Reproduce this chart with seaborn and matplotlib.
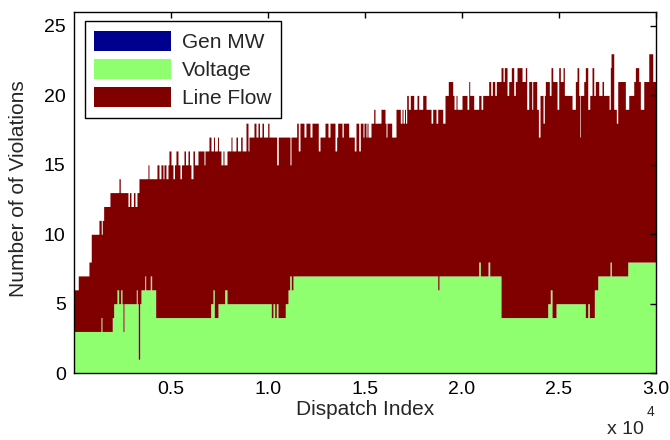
import numpy as np
import matplotlib
matplotlib.use("Agg")
import matplotlib.pyplot as plt
import seaborn as sns

# ---------------- data ----------------
n_dispatch = 30000
series_names = ["Gen MW", "Voltage", "Line Flow"]
series_colors = ["#00008F", "#8FFF70", "#800000"]

# Gen MW violations (none visible)
gen_start = [0]
gen_count = [0]

# Voltage violations: runs (start dispatch index, count)
volt_start = [0, 1392, 1443, 1974, 2047, 2217, 2304, 2407, 2474, 2526, 2578, 3212, 3263,
              3315, 3387, 3454, 3645, 3696, 3933, 4005, 4212, 7047, 7165, 7233, 7423,
              7769, 7887, 10171, 10258, 10346, 10429, 10516, 10892, 11032, 11119, 11202,
              11289, 18749, 18816, 20862, 20945, 21342, 21430, 22012, 24419, 24553, 24641,
              24847, 26358, 26482, 26564, 26822, 26997, 27631, 27698, 28543]
volt_count = [3, 4, 3, 4, 5, 6, 5, 6, 5, 3, 5, 6, 5,
              1, 5, 6, 7, 6, 7, 6, 4, 5, 6, 4, 5,
              6, 5, 4, 5, 4, 5, 4, 5, 6, 7, 6,
              7, 6, 7, 8, 7, 8, 7, 4, 5, 6, 4,
              5, 4, 5, 4, 6, 7, 8, 7, 8]

# Total number of violations (top of the stack): runs (start dispatch index, count)
total_start = [0, 222, 773, 892, 1289, 1407, 1459, 1531, 1856, 2320, 2387, 2784, 2861, 2938,
               3067, 3145, 3248, 3351, 3815, 3866, 4279, 4382, 4485, 4588, 4640, 4743, 4846,
               4897, 5000, 5103, 5181, 5258, 5361, 5464, 5542, 5671, 5748, 5877, 5954, 6031,
               6134, 6212, 6392, 6702, 6753, 6959, 7062, 7191, 7243, 7397, 7449, 7578, 7681,
               7732, 7887, 8093, 8145, 8351, 8428, 8593, 8670, 8867, 8970, 9021, 9279, 9382,
               9485, 9562, 9691, 9769, 9985, 10052, 10449, 10531, 11135, 11187, 11480, 11562,
               11650, 11856, 11959, 12165, 12269, 12593, 12681, 12939, 13094, 13197, 13455,
               13542, 13593, 13815, 13882, 14160, 14449, 14537, 14676, 14759, 14898, 14949,
               15053, 15104, 15156, 15310, 15449, 15516, 15826, 16032, 16084, 16135, 16378,
               16599, 16821, 16909, 16960, 17038, 17089, 17151, 17233, 17336, 17512, 17682,
               17770, 17976, 18146, 18404, 18491, 18661, 18749, 19007, 19125, 19295, 19522,
               19589, 19692, 19744, 20001, 20259, 20347, 20398, 20605, 20862, 20981, 21069,
               21378, 21481, 21564, 21688, 21770, 22012, 22115, 22182, 22322, 22409, 22543,
               22667, 22749, 22837, 23095, 23265, 23337, 23440, 23595, 23646, 23852, 23939,
               24022, 24177, 24244, 24296, 24502, 24589, 24677, 24899, 24987, 25069, 25209,
               25276, 25672, 25843, 25930, 26018, 26069, 26100, 26275, 26358, 26482, 26585,
               26703, 26791, 26873, 27049, 27218, 27296, 27580, 27647, 27683, 27822, 27956,
               28028, 28420, 28596, 28853, 28936, 29111, 29193, 29369, 29627, 29833]
total_count = [6, 7, 8, 10, 11, 10, 11, 12, 13, 14, 13, 12, 13, 12,
               13, 12, 13, 14, 15, 14, 15, 14, 15, 14, 15, 14, 15,
               16, 15, 14, 15, 16, 15, 14, 15, 16, 15, 16, 15, 14,
               16, 15, 16, 15, 16, 17, 16, 17, 16, 17, 16, 15, 16,
               15, 16, 17, 16, 17, 16, 17, 16, 18, 16, 17, 18, 17,
               18, 17, 18, 17, 18, 17, 15, 17, 15, 17, 18, 16,
               18, 17, 18, 17, 18, 16, 17, 18, 17, 18, 16,
               17, 18, 17, 18, 17, 16, 18, 16, 18, 17, 18,
               17, 18, 17, 18, 19, 18, 19, 18, 17, 18, 17,
               19, 18, 19, 18, 19, 18, 20, 19, 20, 19, 20,
               19, 20, 19, 18, 19, 18, 19, 18, 20, 21, 20,
               19, 20, 19, 20, 19, 21, 20, 19, 20, 19, 20,
               21, 20, 21, 20, 21, 22, 21, 22, 20, 21, 22,
               20, 21, 22, 21, 22, 19, 21, 19, 21, 19, 17,
               20, 18, 20, 21, 20, 22, 21, 19, 22, 21, 22,
               20, 19, 21, 22, 20, 17, 20, 21, 22, 19, 20,
               22, 20, 21, 20, 21, 20, 19, 22, 23, 19, 18,
               21, 19, 20, 21, 22, 21, 19, 21, 23, 21]

x_ticks = [5000, 10000, 15000, 20000, 25000, 30000]
x_tick_labels = ["0.5", "1.0", "1.5", "2.0", "2.5", "3.0"]
y_ticks = [0, 5, 10, 15, 20, 25]


def expand(starts, counts, idx):
    starts = np.asarray(starts)
    counts = np.asarray(counts, dtype=float)
    pos = np.searchsorted(starts, idx, side="right") - 1
    return counts[pos]


dispatch = np.arange(1, n_dispatch + 1)
gen = expand(gen_start, gen_count, dispatch)
volt = expand(volt_start, volt_count, dispatch)
total = expand(total_start, total_count, dispatch)
line_flow = np.clip(total - volt - gen, 0, None)

# ---------------- style ----------------
sns.set_theme(style="white")
plt.rcParams["font.family"] = ["Liberation Sans", "DejaVu Sans"]
plt.rcParams["axes.linewidth"] = 1.0

fig = plt.figure(figsize=(6.7, 4.4), dpi=100)
ax = fig.add_axes([0.1104, 0.152, 0.8687, 0.8205])

polys = ax.stackplot(dispatch, gen, volt, line_flow, colors=series_colors,
                     labels=series_names, linewidth=0, step="post",
                     antialiased=True)

ax.set_xlim(1, n_dispatch)
ax.set_ylim(0, 26)
ax.set_xticks(x_ticks)
ax.set_xticklabels(x_tick_labels)
ax.set_yticks(y_ticks)
ax.tick_params(direction="in", length=4, width=1, top=True, right=True,
               labelsize=14, pad=6, colors="black")
for s in ax.spines.values():
    s.set_color("black")
    s.set_linewidth(1.0)
ax.set_axisbelow(False)

ax.set_xlabel("Dispatch Index", fontsize=15, labelpad=1)
ax.set_ylabel("Number of of Violations", fontsize=15)
ax.yaxis.set_label_coords(-0.079, 0.51)

fig.text(607 / 670, 1 - 434 / 440, "x 10", fontsize=14, ha="left", va="baseline")
fig.text(647 / 670, 1 - 416 / 440, "4", fontsize=10, ha="left", va="baseline")

leg = ax.legend(loc="upper left", bbox_to_anchor=(0.019, 0.975), borderaxespad=0,
                fontsize=15, frameon=True, fancybox=False, framealpha=1,
                edgecolor="black", handlelength=3.7, handleheight=1.1,
                handletextpad=0.5, labelspacing=0.35, borderpad=0.45)
leg.get_frame().set_linewidth(1.0)

fig.savefig("out.png", dpi=100)
